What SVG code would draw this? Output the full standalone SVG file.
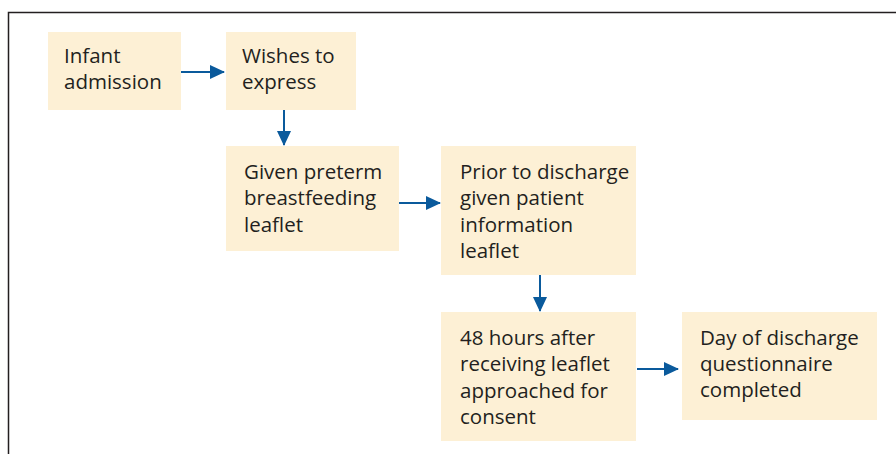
<svg xmlns="http://www.w3.org/2000/svg" width="896" height="454" viewBox="0 0 896 454">
<style>
.box{fill:#fdf0d5}
.t{font-family:"Open Sans","Noto Sans",sans-serif;font-size:20.5px;fill:#231f20}
.c{stroke:#0a5a9c;stroke-width:2;fill:none}
</style>
<defs>
<marker id="ah" markerWidth="15" markerHeight="14" refX="14" refY="7" orient="auto" markerUnits="userSpaceOnUse">
<path d="M0,0 L15,7 L0,14 Z" fill="#0a5a9c"/>
</marker>
</defs>
<rect width="896" height="454" fill="#fff"/>
<path d="M8.5,454 V12.5 H896" stroke="#231f20" stroke-width="1.5" fill="none"/>
<g id="n1"><rect class="box" x="48" y="32" width="133" height="78"/>
<text class="t"><tspan x="64" y="63">Infant</tspan><tspan x="64" y="89">admission</tspan></text></g>
<g id="n2"><rect class="box" x="226" y="32" width="130" height="78"/>
<text class="t"><tspan x="242" y="63">Wishes to</tspan><tspan x="242" y="89">express</tspan></text></g>
<g id="n3"><rect class="box" x="226" y="146" width="173" height="105"/>
<text class="t"><tspan x="244" y="179">Given preterm</tspan><tspan x="244" y="205">breastfeeding</tspan><tspan x="244" y="232">leaflet</tspan></text></g>
<g id="n4"><rect class="box" x="441" y="146" width="195" height="129"/>
<text class="t"><tspan x="460" y="179">Prior to discharge</tspan><tspan x="460" y="205">given patient</tspan><tspan x="460" y="232">information</tspan><tspan x="460" y="258">leaflet</tspan></text></g>
<g id="n5"><rect class="box" x="441" y="312" width="195" height="129"/>
<text class="t"><tspan x="460" y="345">48 hours after</tspan><tspan x="460" y="371">receiving leaflet</tspan><tspan x="460" y="398">approached for</tspan><tspan x="460" y="424">consent</tspan></text></g>
<g id="n6"><rect class="box" x="682" y="312" width="195" height="108"/>
<text class="t"><tspan x="700" y="345">Day of discharge</tspan><tspan x="700" y="371">questionnaire</tspan><tspan x="700" y="397">completed</tspan></text></g>
<g id="connectors">
<path class="c" d="M181,72 H224" marker-end="url(#ah)"/>
<path class="c" d="M284,110 V145" marker-end="url(#ah)"/>
<path class="c" d="M399,203 H440" marker-end="url(#ah)"/>
<path class="c" d="M540,275 V311" marker-end="url(#ah)"/>
<path class="c" d="M637,369 H678" marker-end="url(#ah)"/>
</g>
</svg>
